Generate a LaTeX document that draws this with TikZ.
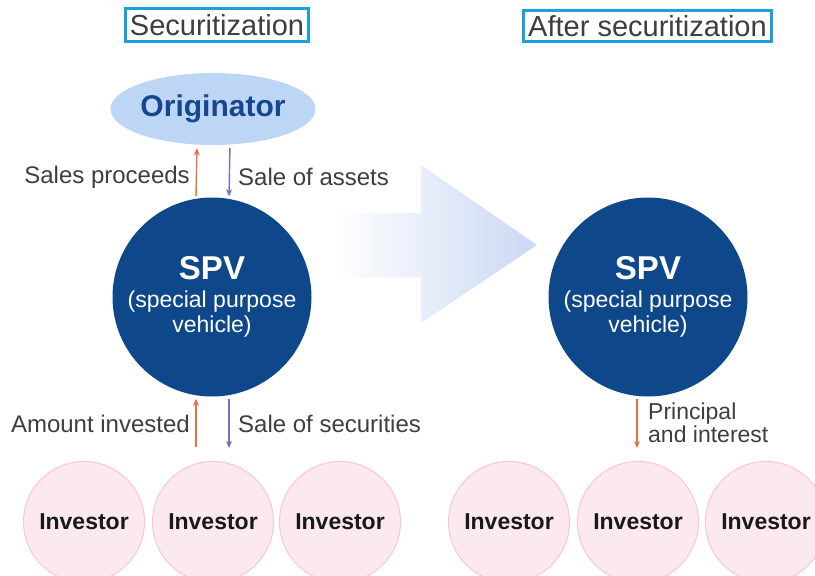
\documentclass[tikz,border=0pt]{standalone}
\usepackage{fontspec}
\setmainfont{Liberation Sans}
\usetikzlibrary{arrows.meta,shapes.geometric}

\definecolor{titleframe}{RGB}{27,160,223}
\definecolor{textgray}{RGB}{62,62,62}
\definecolor{spvblue}{RGB}{14,72,138}
\definecolor{origfill}{RGB}{190,214,245}
\definecolor{origtext}{RGB}{22,70,140}
\definecolor{invfill}{RGB}{252,233,239}
\definecolor{invline}{RGB}{247,198,210}
\definecolor{payorange}{RGB}{233,112,66}
\definecolor{assetblue}{RGB}{112,114,192}
\definecolor{bigarrow}{RGB}{202,216,243}

\begin{document}
\begin{tikzpicture}[x=1pt,y=-1pt,
  titlebox/.style={draw=titleframe, line width=3pt, text=textgray,
    font=\fontsize{29}{31}\selectfont, inner sep=0pt},
  flowlabel/.style={text=textgray, font=\fontsize{24}{26}\selectfont, inner sep=0pt},
  origin/.style={ellipse, fill=origfill, text=origtext, inner sep=0pt,
    minimum width=204pt, minimum height=72pt,
    font=\fontsize{30}{32}\selectfont\bfseries},
  spv/.style={circle, fill=spvblue, text=white, inner sep=0pt, minimum size=199pt,
    align=center, font=\fontsize{23}{25}\selectfont},
  investor/.style={circle, fill=invfill, draw=invline, line width=1pt, inner sep=0pt,
    minimum size=121pt, text=black!90, font=\fontsize{23}{25}\selectfont\bfseries},
  flow/.style={line width=1.4pt, -{Stealth[length=7pt,width=6pt]}},
  proceeds/.style={flow, draw=payorange},
  assets/.style={flow, draw=assetblue},
]
\useasboundingbox (0,0) rectangle (815,576);
\clip (0,0) rectangle (815,576);

% section titles
\node[titlebox, minimum width=183pt, minimum height=33pt] (t1) at (217,25) {Securitization};
\node[titlebox, minimum width=248pt, minimum height=31pt] (t2) at (647.5,26) {After securitization};

% transition arrow between the two states
\shade[left color=white, middle color=bigarrow, right color=bigarrow]
  (333,213) -- (421,213) -- (421,165) -- (537,245) -- (421,323) -- (421,277) -- (333,277) -- cycle;

% left side: securitization
\node[origin] (orig) at (213,109) {Originator};
\node[spv] (spv1) at (212,297) {{\fontsize{33}{33}\selectfont\bfseries SPV}\\[3pt](special purpose\\vehicle)};

\node[investor] (inv1) at (84,522) {Investor};
\node[investor] (inv2) at (213,522) {Investor};
\node[investor] (inv3) at (340,522) {Investor};

\draw[proceeds, shorten <=1pt, shorten >=3pt] ([xshift=-16pt]spv1.north) -- ([xshift=-16pt]orig.south);
\draw[assets, shorten <=3pt, shorten >=1pt] ([xshift=17pt]orig.south) -- ([xshift=17pt]spv1.north);
\draw[proceeds, shorten <=14pt, shorten >=2pt] ([xshift=-17pt]inv2.north) -- ([xshift=-16pt]spv1.south);
\draw[assets, shorten <=2pt, shorten >=13pt] ([xshift=17pt]spv1.south) -- ([xshift=16pt]inv2.north);

\node[flowlabel, anchor=east] (l1) at (190,177) {Sales proceeds};
\node[flowlabel, anchor=west] (l2) at (238,177) {Sale of assets};
\node[flowlabel, anchor=east] (l3) at (190,424) {Amount invested};
\node[flowlabel, anchor=west] (l4) at (238,424) {Sale of securities};

% right side: after securitization
\node[spv] (spv2) at (648,297) {{\fontsize{33}{33}\selectfont\bfseries SPV}\\[3pt](special purpose\\vehicle)};

\node[investor] (inv4) at (509,522) {Investor};
\node[investor] (inv5) at (638,522) {Investor};
\node[investor] (inv6) at (766,522) {Investor};

\draw[proceeds, shorten <=2pt, shorten >=13pt] ([xshift=-11pt]spv2.south) -- ([xshift=-1pt]inv5.north);

\node[flowlabel, anchor=west, align=left, font=\fontsize{23}{23}\selectfont] (l5) at (648,423) {Principal\\and interest};
\end{tikzpicture}
\end{document}
